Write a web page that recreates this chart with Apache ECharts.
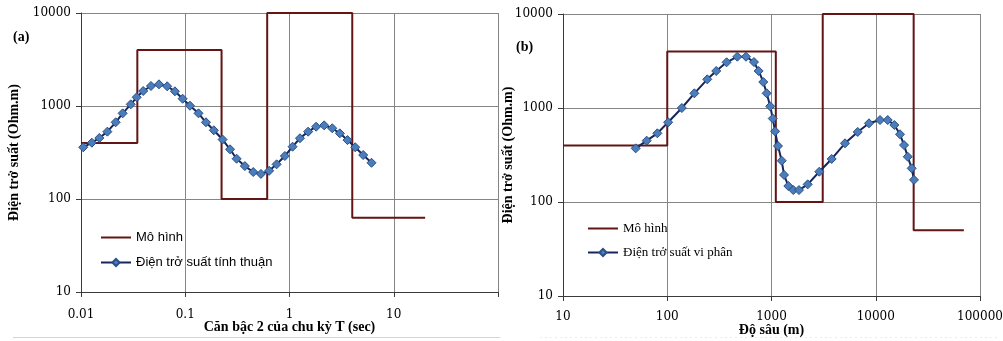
<!DOCTYPE html>
<html>
<head>
<meta charset="utf-8">
<script src="https://cdn.jsdelivr.net/npm/echarts@6/dist/echarts.min.js"></script>
<style>
html,body{margin:0;padding:0;background:#fff;}
#c{width:1003px;height:341px;}
</style>
</head>
<body>
<div id="c"></div>
<script>
// ---------- Chart (a) ----------
const sqrtT_a = [0.0105,0.0127,0.0150,0.0179,0.0215,0.0251,0.0300,0.0342,0.0395,0.0469,
  0.0560,0.0671,0.0796,0.0944,0.111,0.134,0.158,0.188,0.228,0.269,
  0.311,0.373,0.449,0.532,0.638,0.752,0.903,1.07,1.26,1.51,
  1.80,2.15,2.57,3.04,3.60,4.27,5.09,6.12];
const rhoForward_a = [360,403,453,530,668,834,1042,1241,1449,1641,
  1710,1630,1439,1197,1007,834,668,548,436,342,
  271,226,195,186,201,236,290,365,450,530,
  599,619,576,508,430,360,297,245];
const modelBound_a = [0.01,0.0347,0.223,0.611,4.0,20];
const modelRho_a = [400,4000,100,10000,63];

// ---------- Chart (b) ----------
const depth_b = [49.8,63.5,80.4,102,138,182,242,295,371,470,
  569,679,753,834,899,972,1028,1082,1154,1253,
  1319,1450,1618,1835,2224,2873,3778,5070,6716,8610,
  10990,13030,15080,17090,18680,20270,22130,23270];
const rhoDiff_b = [372,449,538,705,1000,1433,2018,2477,3063,3514,
  3514,3084,2477,1892,1433,1042,773,565,394,275,
  194,148,134,134,154,210,287,421,556,687,
  745,745,659,525,403,303,228,172];
const modelDepth_b = [10,100,1100,3100,23100,70000];
const modelRho_b = [400,4000,100,10000,50];

// ---------- tick labels ----------
const xTickVals_a = [0.01,0.1,1,10,100];
const xTickLabels_a = ['0.01','0.1','1','10',''];
const xTickVals_b = [10,100,1000,10000,100000];
const xTickLabels_b = ['10','100','1000','10000','100000'];
const yTickVals = [10,100,1000,10000];
const yTickLabels = ['10','100','1000','10000'];

const seriesNames_a = ['Mô hình','Điện trở suất tính thuận'];
const seriesNames_b = ['Mô hình','Điện trở suất vi phân'];
const xName_a = 'Căn bậc 2 của chu kỳ T (sec)';
const xName_b = 'Độ sâu (m)';
const yName = 'Điện trở suất (Ohm.m)';

function lookup(vals, labels){
  return function(v){
    let best = 0, bd = Infinity;
    for (let i=0;i<vals.length;i++){
      const d = Math.abs(Math.log10(v) - Math.log10(vals[i]));
      if (d < bd){ bd = d; best = i; }
    }
    return bd < 0.01 ? labels[best] : '';
  };
}

const MODEL_COLOR = '#631414';
const LINE_COLOR = '#16265c';
const MARK_COLOR = '#4a7dba';
const GRID_COLOR = '#858585';
const AXIS_COLOR = '#3a3a3a';
const SERIF = 'Liberation Serif';
const NUMF = 'DejaVu Serif';

function xAxis(gridIndex, min, max, name, vals, labels, gap, margin){
  return {
    type:'log', logBase:10, gridIndex, min, max,
    name, nameLocation:'middle', nameGap:gap, nameMoveOverlap:false,
    nameTextStyle:{fontFamily:SERIF, fontWeight:'bold', fontSize:14, color:'#000'},
    axisLine:{show:true, onZero:false, lineStyle:{color:AXIS_COLOR, width:1}},
    axisTick:{show:true, length:5, inside:false, lineStyle:{color:AXIS_COLOR}},
    minorTick:{show:false},
    axisLabel:{fontFamily:NUMF, fontSize:12, color:'#000', margin, formatter:lookup(vals, labels)},
    splitLine:{show:true, lineStyle:{color:GRID_COLOR, width:1}}
  };
}
function yAxis(gridIndex, gap){
  return {
    type:'log', logBase:10, gridIndex, min:10, max:10000,
    name:yName, nameLocation:'middle', nameGap:gap, nameRotate:90, nameMoveOverlap:false,
    nameTextStyle:{fontFamily:SERIF, fontWeight:'bold', fontSize:14, color:'#000'},
    axisLine:{show:true, lineStyle:{color:AXIS_COLOR, width:1}},
    axisTick:{show:true, length:5, lineStyle:{color:AXIS_COLOR}},
    axisLabel:{fontFamily:NUMF, fontSize:12, color:'#000', margin:10, formatter:lookup(yTickVals, yTickLabels)},
    splitLine:{show:true, lineStyle:{color:GRID_COLOR, width:1}}
  };
}

function modelData(xs, ys){
  return xs.map((x,i)=>[x, ys[Math.min(i, ys.length-1)]]);
}
function curveData(xs, ys){
  return xs.map((x,i)=>[x, ys[i]]);
}
function modelSeries(name, xi, yi, data){
  return {
    name, type:'line', xAxisIndex:xi, yAxisIndex:yi, data, step:'end',
    symbol:'none', showSymbol:false, animation:false,
    lineStyle:{color:MODEL_COLOR, width:2}, itemStyle:{color:MODEL_COLOR}, z:2
  };
}
function curveSeries(name, xi, yi, data){
  return {
    name, type:'line', xAxisIndex:xi, yAxisIndex:yi, data,
    symbol:'diamond', symbolSize:9, showSymbol:true, animation:false,
    lineStyle:{color:LINE_COLOR, width:2},
    itemStyle:{color:MARK_COLOR, borderColor:'#2a4f86', borderWidth:1}, z:3
  };
}
function legendItems(names){
  return [
    {name:names[0], itemStyle:{opacity:0}},
    {name:names[1]}
  ];
}

const chart = echarts.init(document.getElementById('c'), null, {renderer:'canvas'});
chart.setOption({
  backgroundColor:'#fff',
  animation:false,
  grid:[
    {left:81, top:13, width:417, height:279, containLabel:false, outerBoundsMode:'none'},
    {left:563, top:14, width:417, height:282, containLabel:false, outerBoundsMode:'none'}
  ],
  xAxis:[
    xAxis(0, 0.01, 100, xName_a, xTickVals_a, xTickLabels_a, 28, 17),
    xAxis(1, 10, 100000, xName_b, xTickVals_b, xTickLabels_b, 27, 15)
  ],
  yAxis:[ yAxis(0, 60), yAxis(1, 48) ],
  legend:[
    {
      data:legendItems(seriesNames_a), orient:'vertical', left:95, top:226,
      itemWidth:30, itemHeight:9, itemGap:12,
      textStyle:{fontFamily:'Liberation Sans', fontSize:13, color:'#000'}
    },
    {
      data:legendItems(seriesNames_b), orient:'vertical', left:582, top:217,
      itemWidth:30, itemHeight:9, itemGap:11,
      textStyle:{fontFamily:SERIF, fontSize:13, color:'#000'}
    }
  ],
  series:[
    modelSeries(seriesNames_a[0], 0, 0, modelData(modelBound_a, modelRho_a)),
    curveSeries(seriesNames_a[1], 0, 0, curveData(sqrtT_a, rhoForward_a)),
    modelSeries(seriesNames_b[0], 1, 1, modelData(modelDepth_b, modelRho_b)),
    curveSeries(seriesNames_b[1], 1, 1, curveData(depth_b, rhoDiff_b))
  ],
  graphic:[
    {type:'text', left:13, top:30, style:{text:'(a)', font:'bold 14px "Liberation Serif"', fill:'#000'}},
    {type:'text', left:516, top:40, style:{text:'(b)', font:'bold 14px "Liberation Serif"', fill:'#000'}},
    {type:'line', shape:{x1:13, y1:337.5, x2:500, y2:337.5}, style:{stroke:'#d4d4d4', lineWidth:1}},
    {type:'line', shape:{x1:540, y1:337.5, x2:1000, y2:337.5}, style:{stroke:'#ececec', lineWidth:1, lineDash:[2,3]}}
  ]
});
</script>
</body>
</html>
